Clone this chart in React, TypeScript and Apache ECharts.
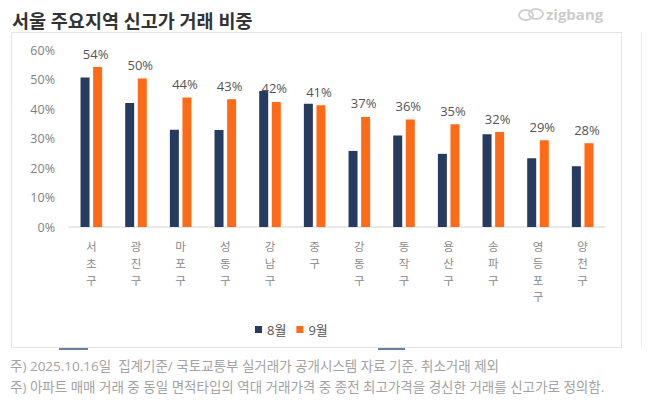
import { useEffect, useRef } from 'react'
import * as echarts from 'echarts'

const districts = ['서초구', '광진구', '마포구', '성동구', '강남구', '중구', '강동구', '동작구', '용산구', '송파구', '영등포구', '양천구']
const aug = [50.7, 42.0, 33.0, 32.9, 46.1, 41.8, 25.8, 31.0, 24.8, 31.4, 23.3, 20.6]
const sep = [54.2, 50.3, 43.9, 43.3, 42.4, 41.3, 37.3, 36.4, 34.8, 32.2, 29.4, 28.4]
const seriesNames = ['8월', '9월']
const title = '서울 주요지역 신고가 거래 비중'
const notes = [
  '주) 2025.10.16일  집계기준/ 국토교통부 실거래가 공개시스템 자료 기준. 취소거래 제외',
  '주) 아파트 매매 거래 중 동일 면적타입의 역대 거래가격 중 종전 최고가격을 경신한 거래를 신고가로 정의함.',
]

const NAVY = '#253b5f'
const ORANGE = '#ff6a17'
const FONT = "'Open Sans', 'Noto Sans CJK KR', sans-serif"

export default function App() {
  const ref = useRef<HTMLDivElement>(null)

  useEffect(() => {
    document.body.style.margin = '0'
    if (!ref.current) return
    const chart = echarts.init(ref.current, undefined, { renderer: 'svg' })
    chart.setOption({
      animation: false,
      backgroundColor: '#fff',
      textStyle: { fontFamily: FONT },
      grid: { left: 69, right: 50, top: 50, bottom: 187, containLabel: false },
      legend: {
        data: seriesNames,
        left: 250, top: 318,
        icon: 'rect', itemWidth: 7, itemHeight: 7, itemGap: 10,
        textStyle: { color: '#555', fontSize: 13, fontFamily: FONT },
      },
      xAxis: {
        type: 'category', data: districts,
        axisLine: { lineStyle: { color: '#e2e2e2', width: 1.5 } },
        axisTick: { show: false },
        axisLabel: {
          // one hangul per line, stacked like the source
          color: '#8a8a8a', fontSize: 11.5, lineHeight: 16.8, margin: 11, interval: 0,
          formatter: (v: string) => v.split('').join('\n'),
        },
      },
      yAxis: {
        type: 'value', min: 0, max: 60, interval: 10,
        axisLine: { show: false }, axisTick: { show: false }, splitLine: { show: false },
        axisLabel: { color: '#808080', fontSize: 12.5, margin: 14, formatter: '{value}%' },
      },
      series: [
        {
          name: seriesNames[0], type: 'bar', data: aug, barWidth: 9, barGap: '40%',
          itemStyle: { color: NAVY },
        },
        {
          name: seriesNames[1], type: 'bar', data: sep, barWidth: 9,
          itemStyle: { color: ORANGE },
          label: {
            show: true, position: 'top', distance: 7, color: '#555', fontSize: 13, offset: [-2, 0],
            formatter: (p: any) => `${Math.round(p.value)}%`,
          },
        },
      ],
      graphic: [
        { type: 'rect', silent: true, shape: { x: 11.5, y: 32.5, width: 610, height: 315 },
          style: { fill: 'none', stroke: '#e4e4e4', lineWidth: 1 }, z: -1 },
        { type: 'line', silent: true, shape: { x1: 641.5, y1: 32, x2: 641.5, y2: 348 },
          style: { stroke: '#efefef', lineWidth: 1 } },
        { type: 'line', silent: true, shape: { x1: 59, y1: 349, x2: 88, y2: 349 },
          style: { stroke: '#6d7fa3', lineWidth: 2 } },
        { type: 'line', silent: true, shape: { x1: 378, y1: 349, x2: 405, y2: 349 },
          style: { stroke: '#6d7fa3', lineWidth: 2 } },
        { type: 'text', left: 12, top: 11,
          style: { text: title, fill: '#333', fontSize: 18.5, fontWeight: 'bold', fontFamily: FONT } },
        { type: 'ellipse', silent: true, shape: { cx: 526, cy: 15, rx: 7, ry: 5 },
          style: { fill: 'none', stroke: '#cfcfcf', lineWidth: 2 } },
        { type: 'ellipse', silent: true, shape: { cx: 536, cy: 14, rx: 7, ry: 5 },
          style: { fill: 'none', stroke: '#cfcfcf', lineWidth: 2 } },
        { type: 'text', left: 546, top: 6,
          style: { text: 'zigbang', fill: '#cccccc', fontSize: 15, fontWeight: 'bold', fontFamily: FONT } },
        { type: 'text', left: 10, top: 359,
          style: { text: notes[0], fill: '#a3a3a3', fontSize: 13.5, fontFamily: FONT } },
        { type: 'text', left: 10, top: 380,
          style: { text: notes[1], fill: '#a3a3a3', fontSize: 13.5, fontFamily: FONT } },
      ],
    })
    return () => chart.dispose()
  }, [])

  return <div ref={ref} style={{ width: 655, height: 414 }} />
}
